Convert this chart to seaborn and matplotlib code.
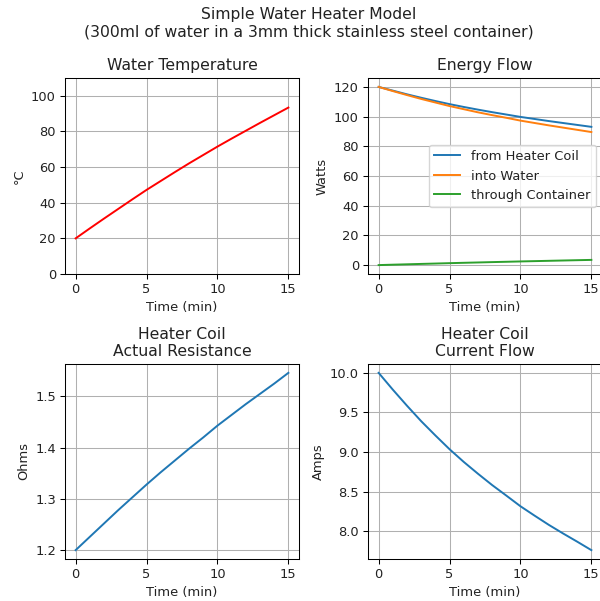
import matplotlib
matplotlib.use("Agg")
import matplotlib.pyplot as plt
import seaborn as sns
import pandas as pd

minutes = list(range(16))
water_temp = [20.0, 25.6, 31.1, 36.5, 41.9, 47.2, 52.2, 57.2, 62.1, 66.8,
              71.5, 76.0, 80.4, 84.8, 89.1, 93.4]
coil_power = [120.0, 117.5, 115.0, 112.7, 110.5, 108.4, 106.5, 104.7, 103.0,
              101.4, 99.8, 98.4, 97.0, 95.7, 94.4, 93.1]
water_power = [120.0, 117.2, 114.5, 111.9, 109.5, 107.1, 105.0, 102.9, 101.0,
               99.2, 97.3, 95.7, 94.1, 92.6, 91.1, 89.6]
container_power = [0.0, 0.27, 0.53, 0.79, 1.04, 1.30, 1.54, 1.77, 2.01, 2.23,
                   2.46, 2.67, 2.88, 3.09, 3.30, 3.50]
resistance = [1.200, 1.226, 1.252, 1.278, 1.303, 1.328, 1.352, 1.375, 1.398,
              1.420, 1.443, 1.464, 1.485, 1.505, 1.525, 1.546]
current = [10.00, 9.788, 9.585, 9.390, 9.210, 9.036, 8.876, 8.727, 8.584,
           8.451, 8.316, 8.197, 8.081, 7.973, 7.869, 7.762]

df = pd.DataFrame({
    "t": minutes, "temp": water_temp, "coil": coil_power, "water": water_power,
    "cont": container_power, "R": resistance, "I": current,
})

s = 0.935
plt.rcParams.update({
    "font.size": 10 * s,
    "axes.titlesize": 12 * s,
    "axes.titlepad": 6 * s,
    "axes.labelpad": 4 * s,
    "lines.linewidth": 1.5 * s,
    "axes.linewidth": 0.8 * s,
    "grid.linewidth": 0.8 * s,
    "xtick.major.size": 3.5 * s,
    "ytick.major.size": 3.5 * s,
    "xtick.major.width": 0.8 * s,
    "ytick.major.width": 0.8 * s,
    "xtick.major.pad": 3.5 * s,
    "ytick.major.pad": 3.5 * s,
    "text.color": "#222222",
    "axes.labelcolor": "#222222",
    "xtick.labelcolor": "#222222",
    "ytick.labelcolor": "#222222",
})

W, H = 600, 601
fig = plt.figure(figsize=(6.0, 6.01), dpi=100)

def ax_at(x0, y0, x1, y1):
    return fig.add_axes([x0 / W, 1 - y1 / H, (x1 - x0) / W, (y1 - y0) / H])

ax1 = ax_at(65, 78, 299, 274)
ax2 = ax_at(368, 78, 602, 274)
ax3 = ax_at(65, 364, 299, 559)
ax4 = ax_at(368, 364, 602, 559)

sns.lineplot(data=df, x="t", y="temp", ax=ax1, color="red")
ax1.set_ylim(0, 110)
ax1.set_title("Water Temperature")
ax1.set_ylabel("°C")

sns.lineplot(data=df, x="t", y="coil", ax=ax2, color="C0", label="from Heater Coil")
sns.lineplot(data=df, x="t", y="water", ax=ax2, color="C1", label="into Water")
sns.lineplot(data=df, x="t", y="cont", ax=ax2, color="C2", label="through Container")
ax2.set_title("Energy Flow")
ax2.set_ylabel("Watts")
ax2.legend(loc="center right")

sns.lineplot(data=df, x="t", y="R", ax=ax3, color="C0")
ax3.set_title("Heater Coil\nActual Resistance")
ax3.set_ylabel("Ohms")

sns.lineplot(data=df, x="t", y="I", ax=ax4, color="C0")
ax4.set_title("Heater Coil\nCurrent Flow")
ax4.set_ylabel("Amps")

for ax in (ax1, ax2, ax3, ax4):
    ax.set_xlabel("Time (min)")
    ax.set_xticks([0, 5, 10, 15])
    ax.grid(True)

fig.suptitle("Simple Water Heater Model\n(300ml of water in a 3mm thick stainless steel container)",
             x=308.5 / W, y=1 - 7 / H, fontsize=12 * s, va="top")

fig.savefig("out.png", dpi=100)
